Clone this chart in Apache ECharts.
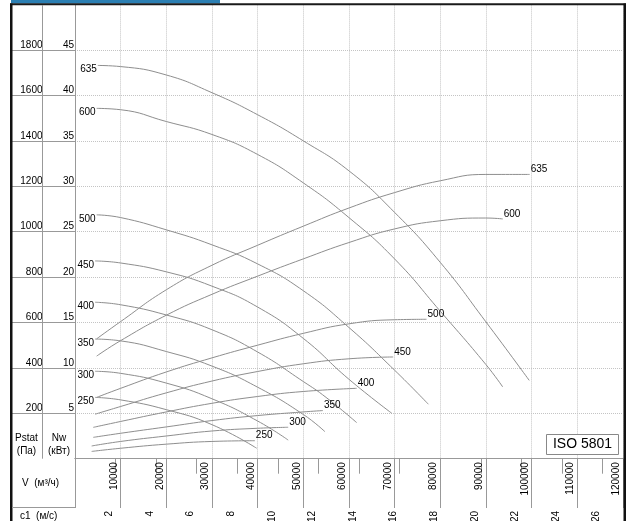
<!DOCTYPE html>
<html><head><meta charset="utf-8">
<script src="https://cdn.jsdelivr.net/npm/echarts@6/dist/echarts.min.js"></script>
<style>html,body{margin:0;padding:0;background:#fff}#c{width:629px;height:521px}</style>
</head><body><div id="c"></div>
<script>
// Fan sizes
const sizes = ['635','600','500','450','400','350','300','250'];
// Static pressure curves [V m3/h, Pstat Pa]
const p635 = [[5000,1732],[10000,1727],[20000,1690],[30000,1612],[40000,1515],[50000,1400],[60000,1268],[70000,1085],[80000,865],[90000,603],[99500,345]];
const p600 = [[4750,1543],[10000,1537],[20000,1485],[30000,1428],[40000,1340],[50000,1215],[60000,1062],[70000,880],[80000,650],[90000,415],[93700,316]];
const p500 = [[4750,1074],[10000,1062],[20000,1008],[30000,942],[40000,858],[50000,740],[60000,578],[70000,390],[77400,240]];
const p450 = [[4400,871],[10000,862],[20000,823],[30000,760],[40000,668],[50000,530],[60000,350],[69400,200]];
const p400 = [[4400,689],[10000,678],[20000,633],[30000,568],[40000,470],[50000,340],[55000,270],[61700,159]];
const p350 = [[4400,527],[10000,519],[20000,472],[30000,408],[40000,315],[50000,195],[54750,119]];
const p300 = [[4400,385],[10000,376],[20000,333],[30000,264],[40000,166],[46700,82]];
const p250 = [[4400,270],[10000,259],[20000,216],[30000,150],[39800,46]];
// Power curves [V m3/h, Nw kW]
const n635 = [[4750,13.2],[10000,15.1],[20000,18.6],[30000,21.3],[40000,23.5],[50000,25.6],[60000,27.6],[70000,29.3],[80000,30.6],[90000,31.3],[99600,31.3]];
const n600 = [[4750,11.3],[10000,13.0],[20000,15.8],[30000,18.1],[40000,20.1],[50000,22.0],[60000,23.8],[70000,25.3],[80000,26.2],[90000,26.5],[93700,26.4]];
const n500 = [[4750,6.75],[10000,7.75],[20000,9.55],[30000,11.1],[40000,12.5],[50000,13.8],[60000,14.85],[70000,15.3],[77000,15.35]];
const n450 = [[4400,4.9],[10000,5.75],[20000,7.25],[30000,8.55],[40000,9.6],[50000,10.45],[60000,11.0],[69700,11.2]];
const n400 = [[4000,3.45],[10000,4.1],[20000,5.15],[30000,6.1],[40000,6.85],[50000,7.4],[61700,7.75]];
const n350 = [[4000,2.35],[10000,2.8],[20000,3.5],[30000,4.2],[40000,4.75],[50000,5.15],[54300,5.3]];
const n300 = [[3650,1.4],[10000,1.9],[20000,2.5],[30000,3.05],[40000,3.35],[46700,3.46]];
const n250 = [[3650,0.8],[10000,1.15],[20000,1.6],[30000,1.9],[39400,1.98]];
const pressureCurves = [p635,p600,p500,p450,p400,p350,p300,p250];
const powerCurves = [n635,n600,n500,n450,n400,n350,n300,n250];
// Axis ranges and tick labels
const flowRange = [0, 120000, 10000];
const flowLabels = [10000,20000,30000,40000,50000,60000,70000,80000,90000,100000,110000,120000];
const paRange = [0, 2000, 200];
const kwRange = [0, 50, 5];
const c1Range = [0, 27, 2];
const c1Labels = [2,4,6,8,10,12,14,16,18,20,22,24,26];

const FONT = "'Liberation Sans', Arial, sans-serif";
const GRAY = '#999';
const CURVE = '#8e8e8e';
const GRID = '#c4c4c4';
// label shift (in px) to the left of each tick line
const PLOT_W = 629 - 75 - 6.2;
const vShift = 6.5 * (flowRange[1] - flowRange[0]) / PLOT_W;
const cShift = 6 * (c1Range[1] - c1Range[0]) / PLOT_W;

function curve(name, arr, yIdx, first) {
  const li = first ? 0 : arr.length - 1;
  return {
    type: 'line', name: name, xAxisIndex: 0, yAxisIndex: yIdx,
    data: arr.map((d, i) => i === li ? {value: d, label: {show: true}} : d),
    smooth: 0.5, symbol: 'circle', symbolSize: 0, showSymbol: true, showAllSymbol: true,
    lineStyle: {color: CURVE, width: 1}, itemStyle: {color: CURVE},
    label: {show: false, formatter: name, position: first ? 'left' : 'right', distance: 1,
            offset: first ? [0, 4] : [0, -5], color: '#000', fontSize: 10, fontFamily: FONT},
    emphasis: {disabled: true}, silent: true, z: 3
  };
}
const series = [];
sizes.forEach((s, i) => {
  series.push(curve(s, pressureCurves[i], 0, true));
  series.push(curve(s, powerCurves[i], 1, false));
});

const txt = (t, x, y, size, align) => ({type: 'text', silent: true, z: 10,
  style: {text: t, x: x, y: y, fill: '#000', font: (size||10) + 'px ' + FONT,
          textAlign: align || 'center', textVerticalAlign: 'middle', align: align || 'center', verticalAlign: 'middle'}});
const line = (x1, y1, x2, y2, c, w) => ({type: 'line', silent: true, z: 10,
  shape: {x1, y1, x2, y2}, style: {stroke: c, lineWidth: w || 1}});

const labelAxisBase = {type: 'value', position: 'bottom', axisLine: {show: false}, axisTick: {show: false}, splitLine: {show: false}};

const chart = echarts.init(document.getElementById('c'), null, {renderer: 'canvas'});
chart.setOption({
  animation: false,
  backgroundColor: '#fff',
  grid: {left: 75, right: 6.2, top: 4.6, bottom: 62.3, containLabel: false, outerBoundsMode: 'none'},
  xAxis: [
    {type: 'value', min: flowRange[0], max: flowRange[1], interval: flowRange[2], position: 'bottom',
     axisLine: {show: true, lineStyle: {color: GRAY}},
     axisTick: {show: true, length: 49.3, lineStyle: {color: GRAY}},
     axisLabel: {show: false},
     splitLine: {show: true, lineStyle: {color: GRID, type: 'dotted'}}},
    {type: 'value', min: c1Range[0], max: c1Range[1], interval: c1Range[2], position: 'bottom', offset: 49.3,
     axisLine: {show: true, lineStyle: {color: GRAY}},
     axisTick: {show: true, length: 15, lineStyle: {color: GRAY}},
     axisLabel: {show: false},
     splitLine: {show: false}},
    Object.assign({}, labelAxisBase, {min: flowRange[0] + vShift, max: flowRange[1] + vShift, offset: 0,
     axisLabel: {customValues: flowLabels, rotate: 90, margin: 3.5, fontSize: 10, fontFamily: FONT, color: '#000',
                 showMinLabel: true, showMaxLabel: true, formatter: v => String(v)}}),
    Object.assign({}, labelAxisBase, {min: c1Range[0] + cShift, max: c1Range[1] + cShift, offset: 49.3,
     axisLabel: {customValues: c1Labels, rotate: 90, margin: 3, fontSize: 10, fontFamily: FONT, color: '#000',
                 showMinLabel: true, showMaxLabel: true, formatter: v => String(v)}})
  ],
  yAxis: [
    {type: 'value', min: paRange[0], max: paRange[1], interval: paRange[2], position: 'left',
     axisLine: {show: true, lineStyle: {color: GRAY}},
     axisTick: {show: true, length: 63, lineStyle: {color: GRAY}},
     axisLabel: {margin: 32.5, verticalAlign: 'bottom', fontSize: 10, fontFamily: FONT, color: '#000',
                 showMinLabel: false, showMaxLabel: false, formatter: v => String(v)},
     splitLine: {show: true, lineStyle: {color: GRID, type: 'dotted'}}},
    {type: 'value', min: kwRange[0], max: kwRange[1], interval: kwRange[2], position: 'left',
     axisLine: {show: false}, axisTick: {show: false},
     axisLabel: {margin: 1, verticalAlign: 'bottom', fontSize: 10, fontFamily: FONT, color: '#000',
                 showMinLabel: false, showMaxLabel: false, formatter: v => String(v)},
     splitLine: {show: false}}
  ],
  series: series,
  graphic: [
    {type: 'rect', silent: true, z: 10, shape: {x: 11, y: 0, width: 209, height: 3.5}, style: {fill: '#2b7fb3'}},
    line(10, 4.3, 626, 4.3, '#1a1a1a', 2),
    {type: 'rect', silent: true, z: 10, shape: {x: 10, y: 3.5, width: 2.5, height: 520}, style: {fill: '#111'}},
    {type: 'rect', silent: true, z: 10, shape: {x: 623.5, y: 3.5, width: 2.5, height: 520}, style: {fill: '#111'}},
    line(42.5, 5, 42.5, 458.7, GRAY, 1),
    line(12, 507.5, 75, 507.5, GRAY, 1),
    txt('Pstat', 26.5, 438.5), txt('(Па)', 26.5, 451),
    txt('Nw', 59, 438.5), txt('(кВт)', 59, 451),
    txt('V  (м³/ч)', 22, 483.5, 10, 'left'),
    txt('c1  (м/с)', 20, 516.5, 10, 'left'),
    {type: 'rect', silent: true, z: 10, shape: {x: 546.5, y: 434.5, width: 72, height: 20}, style: {fill: '#fff', stroke: '#888', lineWidth: 1}},
    txt('ISO 5801', 582.5, 444.5, 14)
  ]
});
</script></body></html>
